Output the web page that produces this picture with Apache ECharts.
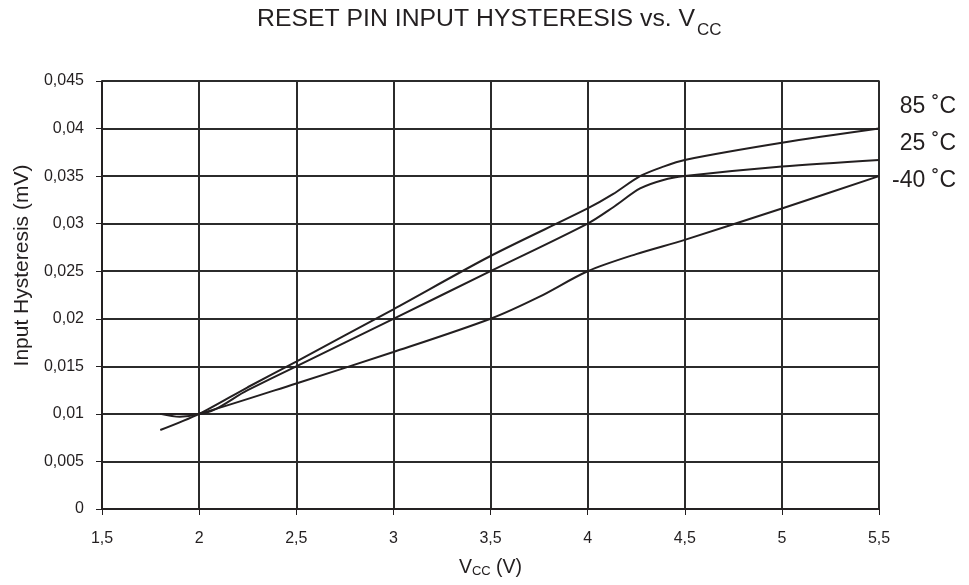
<!DOCTYPE html>
<html><head><meta charset="utf-8">
<script src="https://cdn.jsdelivr.net/npm/echarts@6/dist/echarts.min.js"></script>
<style>html,body{margin:0;padding:0;background:#fff}#c{width:969px;height:585px}</style>
</head><body><div id="c"></div>
<script>
var xTicks = [1.5, 2, 2.5, 3, 3.5, 4, 4.5, 5, 5.5];
var seriesNames = ['85 ˚C', '25 ˚C', '-40 ˚C'];
var vcc85 = [1.8, 2.0, 2.25, 2.5, 3.0, 3.5, 4.0, 4.13, 4.27, 4.39, 4.5, 5.0, 5.5];
var hyst85 = [0.0083, 0.0100, 0.0128, 0.0155, 0.0210, 0.0266, 0.0316, 0.0331, 0.0350, 0.0360, 0.0367, 0.0385, 0.0400];
var vcc25 = [1.8, 2.0, 2.25, 2.5, 3.0, 3.5, 4.0, 4.13, 4.27, 4.39, 4.5, 5.0, 5.5];
var hyst25 = [0.0100, 0.0100, 0.0125, 0.0150, 0.0200, 0.0250, 0.0300, 0.0317, 0.0337, 0.0346, 0.0350, 0.0360, 0.0367];
var vccM40 = [1.8, 1.9, 2.0, 2.5, 3.0, 3.5, 3.75, 4.0, 4.25, 4.5, 5.0, 5.5];
var hystM40 = [0.0100, 0.0097, 0.0100, 0.0132, 0.0165, 0.0200, 0.0223, 0.0250, 0.0268, 0.0283, 0.0316, 0.0350];

function pairs(xs, ys){ return xs.map(function(x,i){ return [x, ys[i]]; }); }
function comma(v){ return String(+v.toFixed(4)).replace('.', ','); }

var font = 'Liberation Sans, Arial, sans-serif';
var ink = '#231f20';
var chart = echarts.init(document.getElementById('c'));
function mk(name, data){
  return {
    type: 'line', name: name, data: data, smooth: 0.3, symbol: 'none',
    lineStyle: {color: ink, width: 2}, z: 5
  };
}
function endText(name, top){
  return {type: 'text', right: 13, top: top,
    style: {text: name, fill: ink, font: '23px ' + font}};
}
chart.setOption({
  animation: false,
  title: [
    {text: 'RESET PIN INPUT HYSTERESIS vs. V', left: 257, top: 7, padding: 0,
     textStyle: {fontFamily: font, fontSize: 24.8, fontWeight: 'normal', color: ink}},
    {text: 'CC', left: 697, top: 22, padding: 0,
     textStyle: {fontFamily: font, fontSize: 17, fontWeight: 'normal', color: ink}}
  ],
  grid: {left: 102, right: 90, top: 81, bottom: 76, show: true, borderColor: '#888', borderWidth: 2},
  graphic: [
    {type: 'text', x: 22, y: 265.5, rotation: Math.PI / 2,
     style: {text: 'Input Hysteresis (mV)', fill: ink, font: '21px ' + font, align: 'center', verticalAlign: 'middle'}},
    endText(seriesNames[0], 95),
    endText(seriesNames[1], 132),
    endText(seriesNames[2], 169)
  ],
  xAxis: {
    type: 'value', min: 1.5, max: 5.5, interval: 0.5,
    name: '{v|V}{s|CC}{v| (V)}', nameLocation: 'middle', nameGap: 49,
    nameTextStyle: {rich: {
      v: {fontFamily: font, fontSize: 19.5, lineHeight: 20, color: ink, verticalAlign: 'bottom'},
      s: {fontFamily: font, fontSize: 13, lineHeight: 13, color: ink, verticalAlign: 'bottom'}
    }},
    axisLine: {show: true, onZero: false, lineStyle: {color: ink, width: 1.5}},
    axisTick: {show: true, inside: false, length: 6, lineStyle: {color: ink}},
    axisLabel: {formatter: comma, fontFamily: font, fontSize: 16, color: ink, margin: 22},
    splitLine: {show: true, lineStyle: {color: '#2b2b2b', width: 2}}
  },
  yAxis: {
    type: 'value', min: 0, max: 0.045, interval: 0.005,
    axisLine: {show: true, lineStyle: {color: ink, width: 1.5}},
    axisTick: {show: true, inside: false, length: 6, lineStyle: {color: ink}},
    axisLabel: {formatter: comma, fontFamily: font, fontSize: 16, color: ink, margin: 18},
    splitLine: {show: true, lineStyle: {color: '#2b2b2b', width: 2}}
  },
  series: [
    mk(seriesNames[0], pairs(vcc85, hyst85)),
    mk(seriesNames[1], pairs(vcc25, hyst25)),
    mk(seriesNames[2], pairs(vccM40, hystM40))
  ]
});
</script></body></html>
